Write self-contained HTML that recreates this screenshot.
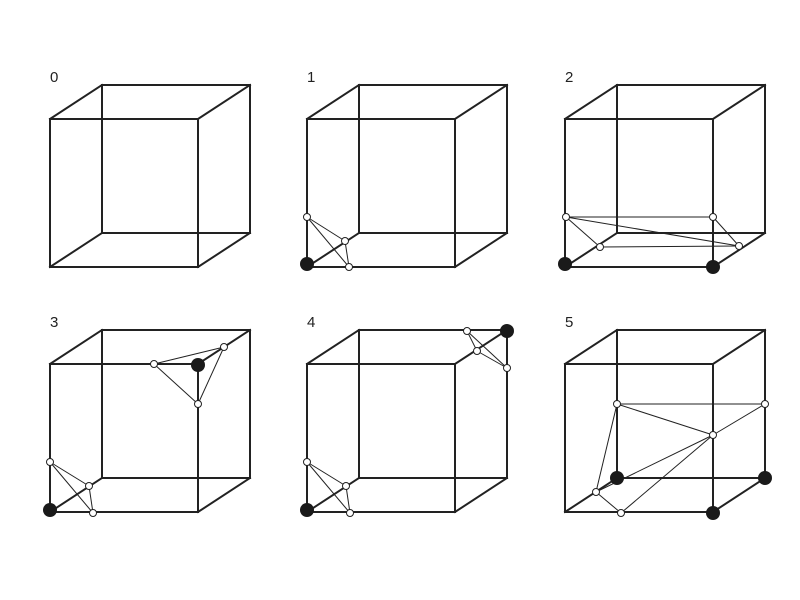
<!DOCTYPE html>
<html><head><meta charset="utf-8"><style>
html,body{margin:0;padding:0;background:#fff}
svg{display:block}
text{font-family:"Liberation Sans",sans-serif;font-size:15px;fill:#222}
</style></head><body>
<svg width="800" height="600">
<g id="root"></g>
</svg>
<script>
const cubeOrigins=[[50,267],[307,267],[565,267],[50,512],[307,512],[565,512]];
const cubeLabels=["0","1","2","3","4","5"];
const blackDots=[[],[[307,264]],[[565,264],[713,267]],[[50,510],[198,365]],[[307,510],[507,331]],[[617,478],[713,513],[765,478]]];
const whitePts=[[],
 [[307,217],[345,241],[349,267]],
 [[566,217],[600,247],[713,217],[739,246]],
 [[50,462],[89,486],[93,513],[154,364],[198,404],[224,347]],
 [[307,462],[346,486],[350,513],[467,331],[477,351],[507,368]],
 [[617,404],[765,404],[713,435],[596,492],[621,513]]];
const thinLinks=[[],
 [[0,1],[0,2],[1,2]],
 [[0,2],[0,1],[1,3],[0,3],[2,3]],
 [[0,1],[0,2],[1,2],[3,4],[3,5],[4,5]],
 [[0,1],[0,2],[1,2],[3,4],[3,5],[4,5]],
 [[0,1],[0,2],[1,2],[0,3],[3,4],[3,2],[4,2]]];
const S=148,DX=52,DY=-34,NS="http://www.w3.org/2000/svg";
const root=document.getElementById('root');
function mk(t,a){const e=document.createElementNS(NS,t);for(const k in a)e.setAttribute(k,a[k]);root.appendChild(e);return e;}
cubeOrigins.forEach((o,i)=>{
 const [x,y]=o;
 const lb=mk('text',{x:x,y:y-S-37});lb.textContent=cubeLabels[i];
 
 
 const f=[[x,y],[x+S,y],[x+S,y-S],[x,y-S]];
 const b=f.map(p=>[p[0]+DX,p[1]+DY]);
 const edges=[];
 for(let k=0;k<4;k++){edges.push([f[k],f[(k+1)%4]]);edges.push([b[k],b[(k+1)%4]]);edges.push([f[k],b[k]]);}
 edges.forEach(e=>{
  const l=mk('line',{x1:e[0][0],y1:e[0][1],x2:e[1][0],y2:e[1][1],stroke:'#222','stroke-width':2,'stroke-linecap':'square'});
  
  
 });
 const w=whitePts[i];
 thinLinks[i].forEach(p=>{
  const l=mk('line',{x1:w[p[0]][0],y1:w[p[0]][1],x2:w[p[1]][0],y2:w[p[1]][1],stroke:'#222','stroke-width':1});
  
  
 });
 blackDots[i].forEach(p=>{
  const c=mk('circle',{cx:p[0],cy:p[1],r:7,fill:'#1a1a1a'});
  
  
 });
 w.forEach(p=>{
  const c=mk('circle',{cx:p[0],cy:p[1],r:3.5,fill:'#fff',stroke:'#222','stroke-width':1});
  
  
 });
});
</script>
</body></html>
